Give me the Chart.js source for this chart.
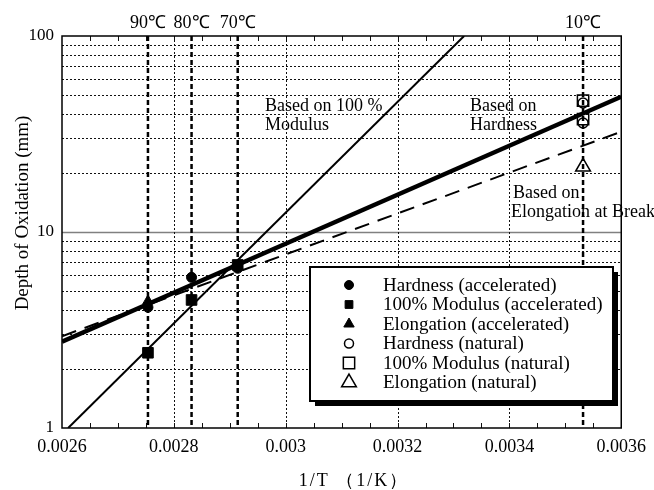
<!DOCTYPE html>
<html>
<head>
<meta charset="utf-8">
<script src="https://cdn.jsdelivr.net/npm/chart.js@4.4.1/dist/chart.umd.min.js"></script>
<style>
  html, body { margin: 0; padding: 0; background: #fff; }
  canvas { display: block; }
</style>
</head>
<body>
<canvas id="chart" width="654" height="490"></canvas>
<script>
// temperatures marked by the vertical dotted lines
const tempC = [90, 80, 70, 10];
const tempLabels = ["90℃", "80℃", "70℃", "10℃"];

const xTicks = [0.0026, 0.0028, 0.003, 0.0032, 0.0034, 0.0036];
const xTickLabels = ["0.0026", "0.0028", "0.003", "0.0032", "0.0034", "0.0036"];
const xMinorStep = 0.00005;
const yTicks = [1, 2, 3, 4, 5, 6, 7, 8, 9, 10, 20, 30, 40, 50, 60, 70, 80, 90, 100];
const yTickLabels = { 1: "1", 10: "10", 100: "100" };

// accelerated ageing (90, 80, 70 C), depth in mm
const hardnessAcc = [4.13, 5.87, 6.53];
const modulusAcc = [2.42, 4.5, 6.79];
const elongAcc = [4.45, null, 6.7];
// natural ageing (10 C)
const hardnessNat = [36.0, 45.5];
const modulusNat = [37.7, 46.8];
const elongNat = [21.5];

// fitted Arrhenius lines, end points
const hardnessFitX = [0.0026, 0.0036];
const hardnessFitY = [2.76, 49];
const modulusFitX = [0.002611, 0.003319];
const modulusFitY = [1, 100];
const elongFitX = [0.0026, 0.0036];
const elongFitY = [2.94, 32.5];

const serif = "'Liberation Serif', 'Times New Roman', serif";
const invT = c => 1 / (c + 273.15);
const accX = tempC.slice(0, 3).map(invT);
const natX = invT(10);

const pts = (xs, ys) => ys.map((y, i) => ({ x: Array.isArray(xs) ? xs[i] : xs, y: y })).filter(p => p.y !== null);

function markerSet(label, data, style, radius, filled, lr) {
  return {
    label: label,
    data: data,
    showLine: false,
    pointStyle: style,
    pointRadius: radius,
    pointHoverRadius: radius,
    pointBackgroundColor: filled ? "#000" : "rgba(0,0,0,0)",
    pointBorderColor: "#000",
    pointBorderWidth: filled ? 1 : 1.5,
    legendRadius: lr
  };
}

function lineSet(label, data, width, dash) {
  return {
    label: label,
    data: data,
    showLine: true,
    pointRadius: 0,
    borderColor: "#000",
    borderWidth: width,
    borderDash: dash,
    fill: false,
    isFit: true
  };
}

const datasets = [
  markerSet("Hardness (accelerated)", pts(accX, hardnessAcc), "circle", 5, true, 4.5),
  markerSet("100% Modulus (accelerated)", pts(accX, modulusAcc), "rect", 7.5, true, 5.5),
  markerSet("Elongation (accelerated)", pts(accX, elongAcc), "triangle", 6, true, 6),
  markerSet("Hardness (natural)", pts(natX, hardnessNat), "circle", 5, false, 4.5),
  markerSet("100% Modulus (natural)", pts(natX, modulusNat), "rect", 8, false, 8),
  markerSet("Elongation (natural)", pts(natX, elongNat), "triangle", 8.5, false, 8.5),
  lineSet("Hardness fit", pts(hardnessFitX, hardnessFitY), 4.5, []),
  lineSet("Modulus fit", pts(modulusFitX, modulusFitY), 2, []),
  lineSet("Elongation fit", pts(elongFitX, elongFitY), 2, [15, 9])
];

const annotations = [
  { text: "Based on 100 %", x: 265, y: 111 },
  { text: "Modulus", x: 265, y: 130 },
  { text: "Based on", x: 470, y: 111 },
  { text: "Hardness", x: 470, y: 130 },
  { text: "Based on", x: 513, y: 198 },
  { text: "Elongation at Break", x: 511, y: 217 }
];

const decorations = {
  id: "decorations",
  beforeDatasetsDraw(chart) {
    const { ctx, chartArea: a, scales: { x, y } } = chart;
    ctx.save();
    // horizontal grid
    yTicks.forEach(v => {
      if (v === 1 || v === 100) return;
      const py = Math.round(y.getPixelForValue(v)) + 0.5;
      ctx.beginPath();
      if (v === 10) {
        ctx.setLineDash([]);
        ctx.strokeStyle = "#808080";
        ctx.lineWidth = 1.5;
      } else {
        ctx.setLineDash([2, 2]);
        ctx.strokeStyle = "#111";
        ctx.lineWidth = 1;
      }
      ctx.moveTo(a.left, py);
      ctx.lineTo(a.right, py);
      ctx.stroke();
    });
    // vertical grid
    ctx.setLineDash([2, 2]);
    ctx.strokeStyle = "#111";
    ctx.lineWidth = 1;
    xTicks.slice(1, -1).forEach(v => {
      const px = Math.round(x.getPixelForValue(v)) + 0.5;
      ctx.beginPath();
      ctx.moveTo(px, a.top);
      ctx.lineTo(px, a.bottom);
      ctx.stroke();
    });
    // minor inward ticks, top and bottom
    ctx.setLineDash([]);
    const n = Math.round((xTicks[xTicks.length - 1] - xTicks[0]) / xMinorStep);
    for (let i = 1; i < n; i++) {
      const px = Math.round(x.getPixelForValue(xTicks[0] + i * xMinorStep)) + 0.5;
      ctx.beginPath();
      ctx.moveTo(px, a.bottom);
      ctx.lineTo(px, a.bottom - 5);
      ctx.moveTo(px, a.top);
      ctx.lineTo(px, a.top + 5);
      ctx.stroke();
    }
    // temperature lines
    ctx.setLineDash([5, 3]);
    ctx.lineWidth = 2.5;
    ctx.strokeStyle = "#000";
    tempC.forEach(t => {
      const px = x.getPixelForValue(invT(t));
      ctx.beginPath();
      ctx.moveTo(px, a.top);
      ctx.lineTo(px, a.bottom);
      ctx.stroke();
    });
    ctx.restore();
  },
  afterDraw(chart) {
    const { ctx, chartArea: a, scales: { x } } = chart;
    ctx.save();
    // frame
    ctx.strokeStyle = "#000";
    ctx.lineWidth = 1.5;
    ctx.strokeRect(a.left, a.top, a.right - a.left, a.bottom - a.top);

    ctx.fillStyle = "#000";
    // temperature labels
    ctx.font = "18px " + serif;
    ctx.textAlign = "center";
    ctx.textBaseline = "alphabetic";
    tempC.forEach((t, i) => {
      ctx.fillText(tempLabels[i], x.getPixelForValue(invT(t)), 28);
    });

    // annotations
    ctx.font = "18px " + serif;
    ctx.textAlign = "left";
    annotations.forEach(n => ctx.fillText(n.text, n.x, n.y));

    // axis titles
    ctx.save();
    ctx.translate(28, 213);
    ctx.rotate(-Math.PI / 2);
    ctx.textAlign = "center";
    ctx.font = "19px " + serif;
    ctx.fillText("Depth of Oxidation (mm)", 0, 0);
    ctx.restore();

    ctx.textAlign = "center";
    ctx.font = "18px " + serif;
    ctx.letterSpacing = "2px";
    ctx.fillText("1/T （1/K）", 354, 486);
    ctx.letterSpacing = "0px";

    // legend box
    const bx = 310, by = 267, bw = 303, bh = 134;
    ctx.fillStyle = "#000";
    ctx.fillRect(bx + 5, by + 5, bw, bh);
    ctx.fillStyle = "#fff";
    ctx.fillRect(bx, by, bw, bh);
    ctx.lineWidth = 2;
    ctx.strokeStyle = "#000";
    ctx.strokeRect(bx, by, bw, bh);

    ctx.font = "19px " + serif;
    ctx.textAlign = "left";
    ctx.textBaseline = "middle";
    const rowY = by + 18;
    const rowH = 19.5;
    chart.data.datasets.filter(d => !d.isFit).forEach((d, i) => {
      const cy = rowY + i * rowH;
      ctx.fillStyle = d.pointBackgroundColor;
      ctx.strokeStyle = "#000";
      ctx.lineWidth = d.pointBorderWidth;
      Chart.helpers.drawPoint(ctx, {
        pointStyle: d.pointStyle,
        radius: d.legendRadius,
        rotation: 0,
        borderWidth: d.pointBorderWidth
      }, 349, cy);
      ctx.fillStyle = "#000";
      ctx.fillText(d.label, 383, cy + 1);
    });
    ctx.restore();
  }
};

new Chart(document.getElementById("chart"), {
  type: "scatter",
  data: { datasets: datasets },
  options: {
    responsive: false,
    animation: false,
    events: [],
    layout: { padding: { top: 36, right: 28, left: 0, bottom: 0 } },
    plugins: {
      legend: { display: false },
      tooltip: { enabled: false }
    },
    scales: {
      x: {
        type: "linear",
        min: xTicks[0],
        max: xTicks[xTicks.length - 1],
        grid: { display: false, drawTicks: false },
        border: { display: false },
        afterFit: s => { s.height = 62; },
        afterBuildTicks: s => { s.ticks = xTicks.map(v => ({ value: v })); },
        ticks: {
          autoSkip: false,
          maxRotation: 0,
          padding: 8,
          color: "#000",
          font: { family: serif, size: 18 },
          callback: (v, i) => xTickLabels[i]
        }
      },
      y: {
        type: "logarithmic",
        min: yTicks[0],
        max: yTicks[yTicks.length - 1],
        grid: { display: false, drawTicks: false },
        border: { display: false },
        afterFit: s => { s.width = 62; },
        afterBuildTicks: s => { s.ticks = yTicks.map(v => ({ value: v })); },
        ticks: {
          autoSkip: false,
          padding: 8,
          color: "#000",
          font: { family: serif, size: 17 },
          callback: v => yTickLabels[v] || ""
        }
      }
    }
  },
  plugins: [decorations]
});
</script>
</body>
</html>
